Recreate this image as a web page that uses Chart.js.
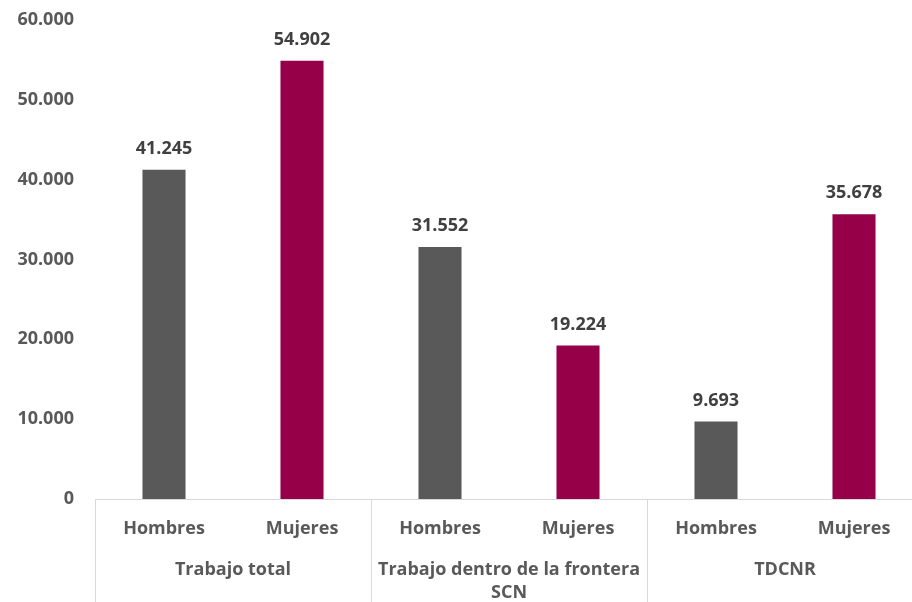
<!DOCTYPE html>
<html>
<head>
<meta charset="utf-8">
<script src="https://cdn.jsdelivr.net/npm/chart.js@4.4.0/dist/chart.umd.min.js"></script>
<style>
  html, body { margin: 0; padding: 0; background: #fff; overflow: hidden; }
  #caja { position: relative; width: 924px; height: 602px; }
</style>
</head>
<body>
<div id="caja"><canvas id="grafico"></canvas></div>
<script>
// Datos del gráfico
const categorias = ['Hombres', 'Mujeres', 'Hombres', 'Mujeres', 'Hombres', 'Mujeres'];
const grupos = [['Trabajo total'], ['Trabajo dentro de la frontera', 'SCN'], ['TDCNR']];
const valores = [41245, 54902, 31552, 19224, 9693, 35678];
const ticksY = [0, 10000, 20000, 30000, 40000, 50000, 60000];

const GRIS = '#595959';
const GRANATE = '#960048';
const LINEA = '#d9d9d9';

function formatoMiles(v) {
    return String(v).replace(/\B(?=(\d{3})+(?!\d))/g, '.');
}

Chart.defaults.font.family = "'Open Sans', sans-serif";
Chart.defaults.font.weight = 'bold';
Chart.defaults.font.size = 18;
Chart.defaults.color = GRIS;

// quita el relleno automático que la escala pide al layout
function sinRelleno(scale) {
    scale.paddingTop = 0;
    scale.paddingBottom = 0;
    scale.paddingLeft = 0;
    scale.paddingRight = 0;
}

// Etiquetas encima de las barras
const etiquetasBarras = {
    id: 'etiquetasBarras',
    afterDatasetsDraw(chart) {
        const c = chart.ctx;
        const meta = chart.getDatasetMeta(0);
        c.save();
        c.font = "bold 18px 'Open Sans', sans-serif";
        c.fillStyle = '#404040';
        c.textAlign = 'center';
        c.textBaseline = 'middle';
        meta.data.forEach((barra, i) => {
            c.fillText(formatoMiles(valores[i]), barra.x, barra.y - 21);
        });
        c.restore();
    }
};

// Eje X: línea base, grupos y separadores
const gruposEje = {
    id: 'gruposEje',
    afterDraw(chart) {
        const c = chart.ctx;
        const x = chart.scales.x;
        const ancho = (x.right - x.left) / categorias.length;
        c.save();
        c.strokeStyle = LINEA;
        c.lineWidth = 1;
        c.beginPath();
        c.moveTo(x.left, Math.round(x.top) + 0.5);
        c.lineTo(x.right, Math.round(x.top) + 0.5);
        c.stroke();
        for (let g = 0; g <= grupos.length; g++) {
            const px = Math.round(x.left + g * 2 * ancho) + 0.5;
            c.beginPath();
            c.moveTo(px, x.top);
            c.lineTo(px, chart.height);
            c.stroke();
        }
        c.font = "bold 18px 'Open Sans', sans-serif";
        c.fillStyle = GRIS;
        c.textAlign = 'center';
        c.textBaseline = 'middle';
        grupos.forEach((lineas, g) => {
            const cx = x.left + (g * 2 + 1) * ancho;
            lineas.forEach((texto, k) => {
                c.fillText(texto, cx, x.top + 71 + k * 23);
            });
        });
        c.restore();
    }
};

new Chart(document.getElementById('grafico').getContext('2d'), {
    type: 'bar',
    data: {
        labels: categorias,
        datasets: [{
            data: valores,
            backgroundColor: [GRIS, GRANATE, GRIS, GRANATE, GRIS, GRANATE],
            categoryPercentage: 1,
            barPercentage: 0.312
        }]
    },
    options: {
        responsive: true,
        maintainAspectRatio: false,
        animation: false,
        layout: { padding: { top: 20, right: 1, bottom: 0, left: 0 } },
        plugins: {
            legend: { display: false },
            tooltip: { enabled: false }
        },
        scales: {
            x: {
                grid: { display: false },
                border: { display: false },
                ticks: { padding: 11, maxRotation: 0, autoSkip: false },
                afterFit(scale) {
                    scale.height = 103;
                    sinRelleno(scale);
                }
            },
            y: {
                min: 0,
                max: 60000,
                grid: { display: false },
                border: { display: false },
                ticks: {
                    padding: 13,
                    callback: v => formatoMiles(v)
                },
                afterBuildTicks(scale) {
                    scale.ticks = ticksY.map(v => ({ value: v }));
                },
                afterFit(scale) {
                    scale.width = 95;
                    sinRelleno(scale);
                }
            }
        }
    },
    plugins: [etiquetasBarras, gruposEje]
});
</script>
</body>
</html>
